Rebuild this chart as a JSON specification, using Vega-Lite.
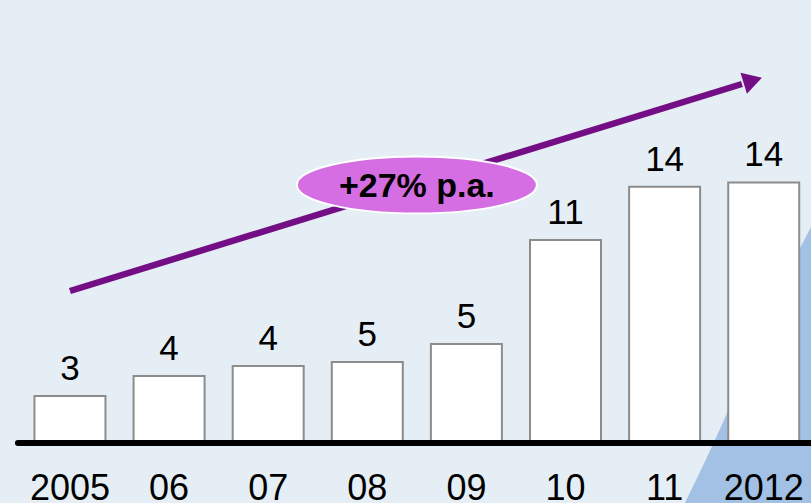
{
  "$schema": "https://vega.github.io/schema/vega-lite/v6.json",
  "width": 811,
  "height": 503,
  "autosize": {"type": "none"},
  "padding": 0,
  "background": "#E5EEF5",
  "config": {"view": {"stroke": null}, "font": "Liberation Sans"},
  "datasets": {
    "bars": [
      {"year": "2005", "i": 0, "v": 2.43, "label": "3"},
      {"year": "06", "i": 1, "v": 3.51, "label": "4"},
      {"year": "07", "i": 2, "v": 4.05, "label": "4"},
      {"year": "08", "i": 3, "v": 4.27, "label": "5"},
      {"year": "09", "i": 4, "v": 5.24, "label": "5"},
      {"year": "10", "i": 5, "v": 10.86, "label": "11"},
      {"year": "11", "i": 6, "v": 13.75, "label": "14"},
      {"year": "2012", "i": 7, "v": 13.98, "label": "14"}
    ],
    "swoosh": [
      {"x": 6.206, "y": -3.35},
      {"x": 6.63, "y": 1.51},
      {"x": 7.013, "y": 6.54},
      {"x": 7.477, "y": 11.57}
    ],
    "baseline": [{"x": -0.525, "x2": 7.6, "y": -0.11}],
    "arrow": [
      {"x": 0, "y": 8.11},
      {"x": 6.78, "y": 19.3}
    ],
    "head": [{"x": 6.89, "y": 19.49}],
    "badge": [{"x": 3.5, "y": 13.84, "yt": 13.19, "text": "+27% p.a."}]
  },
  "layer": [
    {
      "data": {"name": "swoosh"},
      "mark": {"type": "area", "fill": "#A3C1E4", "opacity": 1, "interpolate": "monotone"},
      "encoding": {
        "x": {"field": "x", "type": "quantitative", "scale": {"domain": [-0.706, 7.477], "nice": false, "zero": false, "padding": 0}, "axis": null},
        "y": {"field": "y", "type": "quantitative", "scale": {"domain": [-3.35, 23.84], "nice": false, "zero": false}, "axis": null},
        "y2": {"datum": -3.35}
      }
    },
    {
      "data": {"name": "bars"},
      "mark": {"type": "bar", "width": 71, "fill": "white", "stroke": "#8C8C8C", "strokeWidth": 2},
      "encoding": {
        "x": {"field": "i", "type": "quantitative"},
        "y": {"field": "v", "type": "quantitative"},
        "y2": {"datum": 0}
      }
    },
    {
      "data": {"name": "bars"},
      "mark": {"type": "text", "fontSize": 35, "baseline": "alphabetic", "dy": -16, "color": "black"},
      "encoding": {
        "x": {"field": "i", "type": "quantitative"},
        "y": {"field": "v", "type": "quantitative"},
        "text": {"field": "label"}
      }
    },
    {
      "data": {"name": "bars"},
      "mark": {"type": "text", "fontSize": 36, "baseline": "alphabetic", "dy": 59, "color": "black"},
      "encoding": {
        "x": {"field": "i", "type": "quantitative"},
        "y": {"datum": 0},
        "text": {"field": "year"}
      }
    },
    {
      "data": {"name": "baseline"},
      "mark": {"type": "rule", "stroke": "black", "strokeWidth": 6, "strokeCap": "round"},
      "encoding": {
        "x": {"field": "x", "type": "quantitative"},
        "x2": {"field": "x2"},
        "y": {"field": "y", "type": "quantitative"}
      }
    },
    {
      "data": {"name": "arrow"},
      "mark": {"type": "line", "stroke": "#740E85", "strokeWidth": 6.5},
      "encoding": {
        "x": {"field": "x", "type": "quantitative"},
        "y": {"field": "y", "type": "quantitative"}
      }
    },
    {
      "data": {"name": "head"},
      "mark": {"type": "point", "shape": "triangle-right", "size": 484, "angle": -17, "filled": true, "fill": "#740E85", "opacity": 1, "strokeWidth": 0},
      "encoding": {
        "x": {"field": "x", "type": "quantitative"},
        "y": {"field": "y", "type": "quantitative"}
      }
    },
    {
      "data": {"name": "badge"},
      "mark": {"type": "point", "shape": "M-1,0A1,0.2375,0,1,0,1,0A1,0.2375,0,1,0,-1,0Z", "size": 57600, "filled": true, "fill": "#D56EE3", "stroke": "white", "strokeWidth": 2, "opacity": 1},
      "encoding": {
        "x": {"field": "x", "type": "quantitative"},
        "y": {"field": "y", "type": "quantitative"}
      }
    },
    {
      "data": {"name": "badge"},
      "mark": {"type": "text", "fontSize": 34, "fontWeight": "bold", "baseline": "alphabetic", "color": "black"},
      "encoding": {
        "x": {"field": "x", "type": "quantitative"},
        "y": {"field": "yt", "type": "quantitative"},
        "text": {"field": "text"}
      }
    }
  ]
}
